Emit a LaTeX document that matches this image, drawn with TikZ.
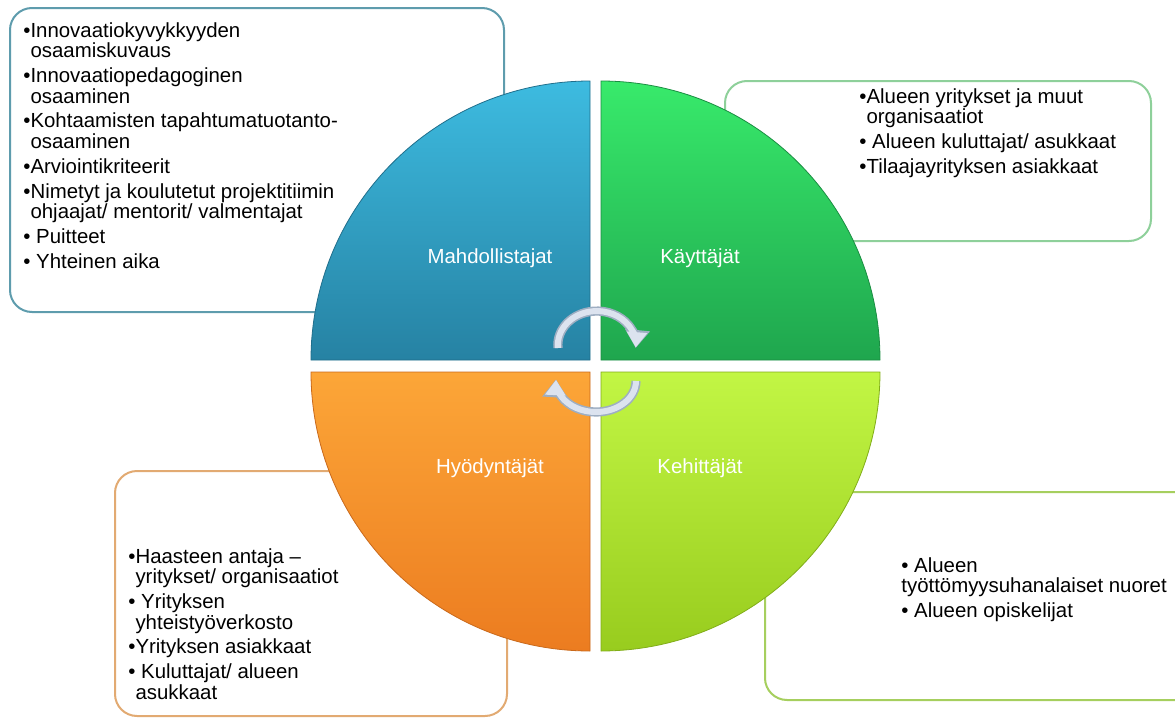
\documentclass[tikz,border=0pt]{standalone}
\usepackage{fontspec}
\setmainfont{Liberation Sans}
\usetikzlibrary{arrows.meta}

\definecolor{mahdTop}{HTML}{3DBBE0}
\definecolor{mahdBot}{HTML}{2682A3}
\definecolor{kayTop}{HTML}{38EA6B}
\definecolor{kayBot}{HTML}{1FA64E}
\definecolor{hyoTop}{HTML}{FCA638}
\definecolor{hyoBot}{HTML}{EC7C20}
\definecolor{kehTop}{HTML}{C2F644}
\definecolor{kehBot}{HTML}{98CC1E}
\definecolor{mahdLine}{HTML}{5E9CAD}
\definecolor{kayLine}{HTML}{8ED09A}
\definecolor{hyoLine}{HTML}{E2AA72}
\definecolor{kehLine}{HTML}{A6CF5E}
\definecolor{arrowFill}{HTML}{DCE3EF}
\definecolor{arrowLine}{HTML}{9EAEC2}

\begin{document}
\begin{tikzpicture}[
		x=0.5pt, y=-0.5pt,
		every node/.style={inner sep=0pt, font=\fontsize{10.2}{10.25}\selectfont},
		infobox/.style={rounded corners=11pt, line width=1pt, fill=white},
		quarter/.style={draw=#1Bot!85!black, line width=0.4pt, top color=#1Top, bottom color=#1Bot},
		itemtext/.style={align=left, anchor=north west},
		quadlabel/.style={text=white},
		cycle/.style={line width=#1, line cap=butt}
	]
  \useasboundingbox (0,0) rectangle (1175,718);

  % boxes behind the circle
  \draw[infobox, draw=mahdLine] (10,8) rectangle (504,312);
  \draw[infobox, draw=kayLine] (725,81) rectangle (1151,241);
  \draw[infobox, draw=hyoLine] (115,471) rectangle (507,716);
  \draw[infobox, draw=kehLine] (765,492) rectangle (1200,700);

  % the four quarters
  \draw[quarter=mahd] (590,360) -- ++(-279,0) arc[start angle=180, end angle=270, radius=279] -- cycle;
  \draw[quarter=kay] (601,360) -- ++(0,-279) arc[start angle=270, end angle=360, radius=279] -- cycle;
  \draw[quarter=hyo] (590,372) -- ++(-279,0) arc[start angle=180, end angle=90, radius=279] -- cycle;
  \draw[quarter=keh] (601,372) -- ++(279,0) arc[start angle=0, end angle=90, radius=279] -- cycle;

  \node (mahd) [quadlabel] at (490,258) {Mahdollistajat};
  \node (kay) [quadlabel] at (700,258) {Käyttäjät};
  \node (hyo) [quadlabel] at (490,468) {Hyödyntäjät};
  \node (keh) [quadlabel] at (700,468) {Kehittäjät};

  % cycle arrows
  \draw[cycle=4.6pt, arrowLine, -{Triangle[length=9pt, width=12pt]}]
    (558,348) arc[start angle=175, end angle=365, x radius=39, y radius=34];
  \draw[cycle=3pt, arrowFill, -{Triangle[length=7.6pt, width=9.8pt]}]
    (558,348) arc[start angle=175, end angle=364, x radius=39, y radius=34];
  \draw[cycle=4.6pt, arrowLine, -{Triangle[length=9pt, width=12pt]}]
    (636,381) arc[start angle=0, end angle=183, x radius=40, y radius=31];
  \draw[cycle=3pt, arrowFill, -{Triangle[length=7.6pt, width=9.8pt]}]
    (636,381) arc[start angle=0, end angle=182, x radius=40, y radius=31];

  % texts of the boxes
  \node (mahd_text) [itemtext] at (23,22) {%
    •Innovaatiokyvykkyyden\\
    \hphantom{•}osaamiskuvaus\\[2.2pt]
    •Innovaatiopedagoginen\\
    \hphantom{•}osaaminen\\[2.2pt]
    •Kohtaamisten tapahtumatuotanto-\\
    \hphantom{•}osaaminen\\[2.2pt]
    •Arviointikriteerit\\[2.2pt]
    •Nimetyt ja koulutetut projektitiimin\\
    \hphantom{•}ohjaajat/ mentorit/ valmentajat\\[2.2pt]
    • Puitteet\\[2.2pt]
    • Yhteinen aika};
  \node (kay_text) [itemtext] at (859,88) {%
    •Alueen yritykset ja muut\\
    \hphantom{•}organisaatiot\\[2.2pt]
    • Alueen kuluttajat/ asukkaat\\[2.2pt]
    •Tilaajayrityksen asiakkaat};
  \node (hyo_text) [itemtext] at (128,548) {%
    •Haasteen antaja –\\
    \hphantom{•}yritykset/ organisaatiot\\[2.2pt]
    • Yrityksen\\
    \hphantom{•}yhteistyöverkosto\\[2.2pt]
    •Yrityksen asiakkaat\\[2.2pt]
    • Kuluttajat/ alueen\\
    \hphantom{•}asukkaat};
  \node (keh_text) [itemtext] at (901,557) {%
    • Alueen\\
    työttömyysuhanalaiset nuoret\\[2.2pt]
    • Alueen opiskelijat};
\end{tikzpicture}
\end{document}
